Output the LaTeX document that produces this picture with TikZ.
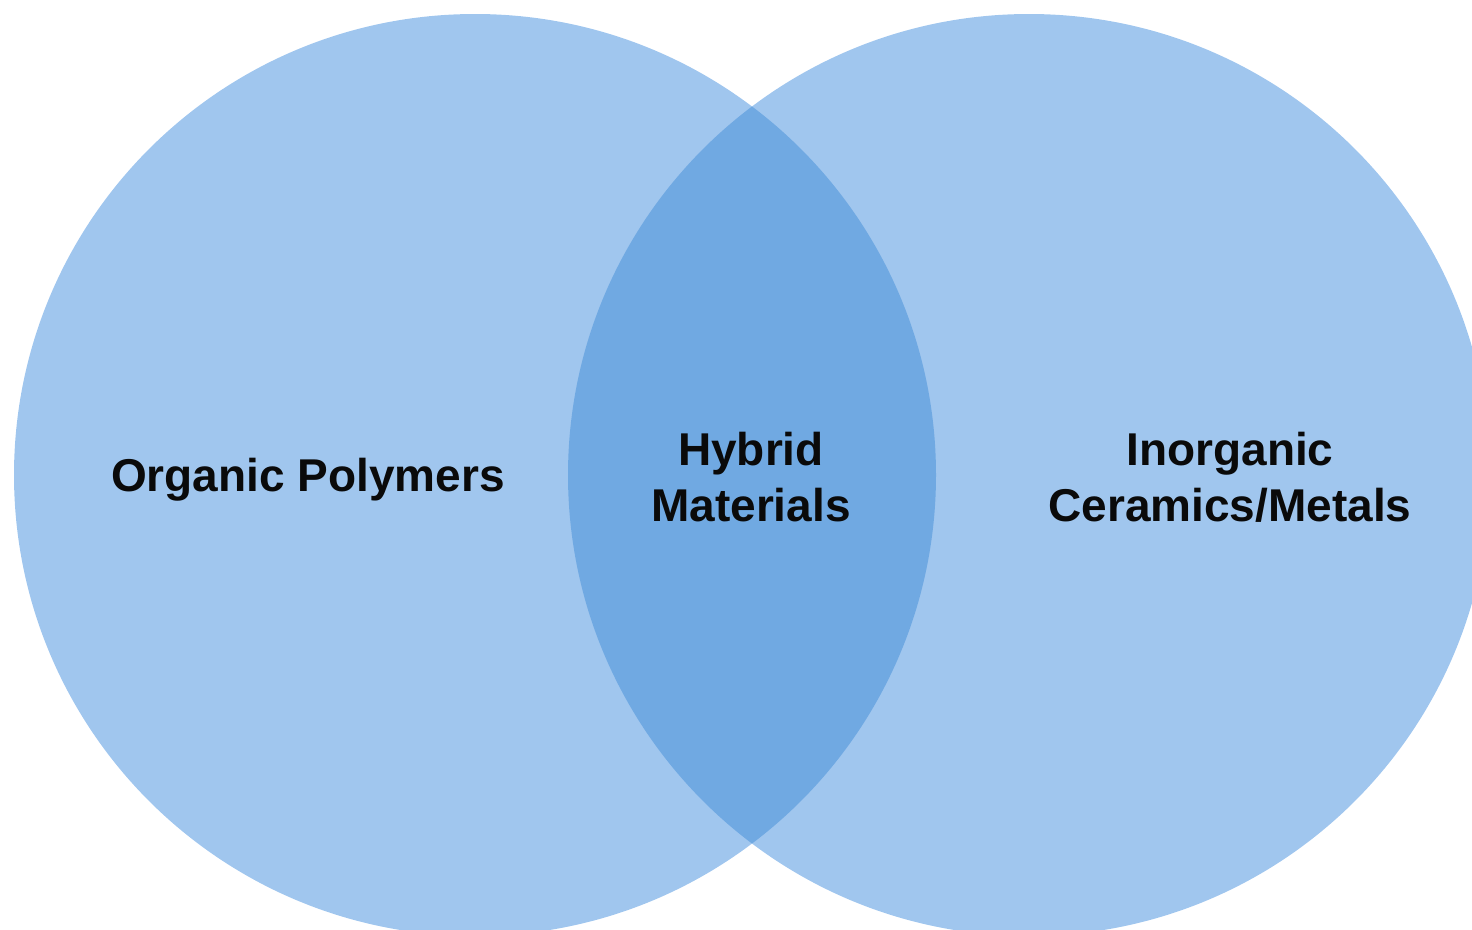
\documentclass[tikz,border=0pt]{standalone}
\usepackage{fontspec}
\setmainfont{Liberation Sans}
\definecolor{lightblue}{HTML}{A0C6EE}
\definecolor{midblue}{HTML}{70A9E2}
\definecolor{txt}{HTML}{0A0A0A}
\begin{document}
\begin{tikzpicture}[x=1pt,y=-1pt,
  setcircle/.style={circle, fill=lightblue, draw=none, minimum size=922pt, inner sep=0pt},
  label/.style={font=\fontsize{46}{56}\selectfont\bfseries, text=txt, align=center}]
\useasboundingbox (0,0) rectangle (1472,929);
\begin{scope}
\clip (0,0) rectangle (1472,929);
\node[setcircle] (L) at (475,475) {};
\node[setcircle] (R) at (1029,475) {};
\begin{scope}
\clip (475,475) circle [radius=461pt];
\fill[midblue] (1029,475) circle [radius=461pt];
\end{scope}
\end{scope}
\node[label] (op) at (308,480) {Organic Polymers};
\node[label] (hm) at (751,477) {Hybrid\\Materials};
\node[label] (ic) at (1230,477) {Inorganic\\Ceramics/Metals};
\end{tikzpicture}
\end{document}
